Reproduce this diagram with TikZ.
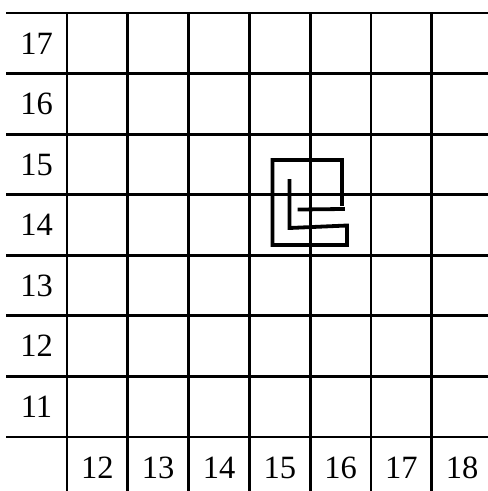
\documentclass[tikz,border=0pt]{standalone}
\usepackage{fontspec}
\setmainfont{Liberation Serif}
\begin{document}
\begin{tikzpicture}[x=1pt,y=-1pt,
  gridline/.style={line width=2.8pt,black},
  spiral/.style={line width=3.8pt,black,line cap=rect,line join=miter},
  lab/.style={font=\fontsize{32.5}{34}\selectfont,inner sep=0pt,anchor=center}]
\useasboundingbox (0,0) rectangle (488,491);
% horizontal grid lines
\foreach \i in {0,...,7}{
  \draw[gridline] (6,{13+60.57*\i}) -- (488,{13+60.57*\i});
}
% vertical grid lines
\foreach \j in {0,...,6}{
  \draw[gridline] ({67+60.8*\j},13) -- ({67+60.8*\j},491);
}
% row labels
\foreach \n [count=\k from 0] in {17,16,15,14,13,12,11}{
  \node[lab] (r\n) at (36.5,{43.3+60.57*\k}) {\n};
}
% column labels
\foreach \n [count=\k from 0] in {12,13,14,15,16,17,18}{
  \node[lab] (c\n) at ({97.4+60.8*\k},467.5) {\n};
}
% spiral figure
\draw[spiral] (342,204) -- (342,160) -- (272.5,160) -- (272.5,245) -- (347,245) -- (347,225.5) -- (289.5,228) -- (289.5,181);
\draw[spiral] (299.5,209.5) -- (343,209);
\end{tikzpicture}
\end{document}
